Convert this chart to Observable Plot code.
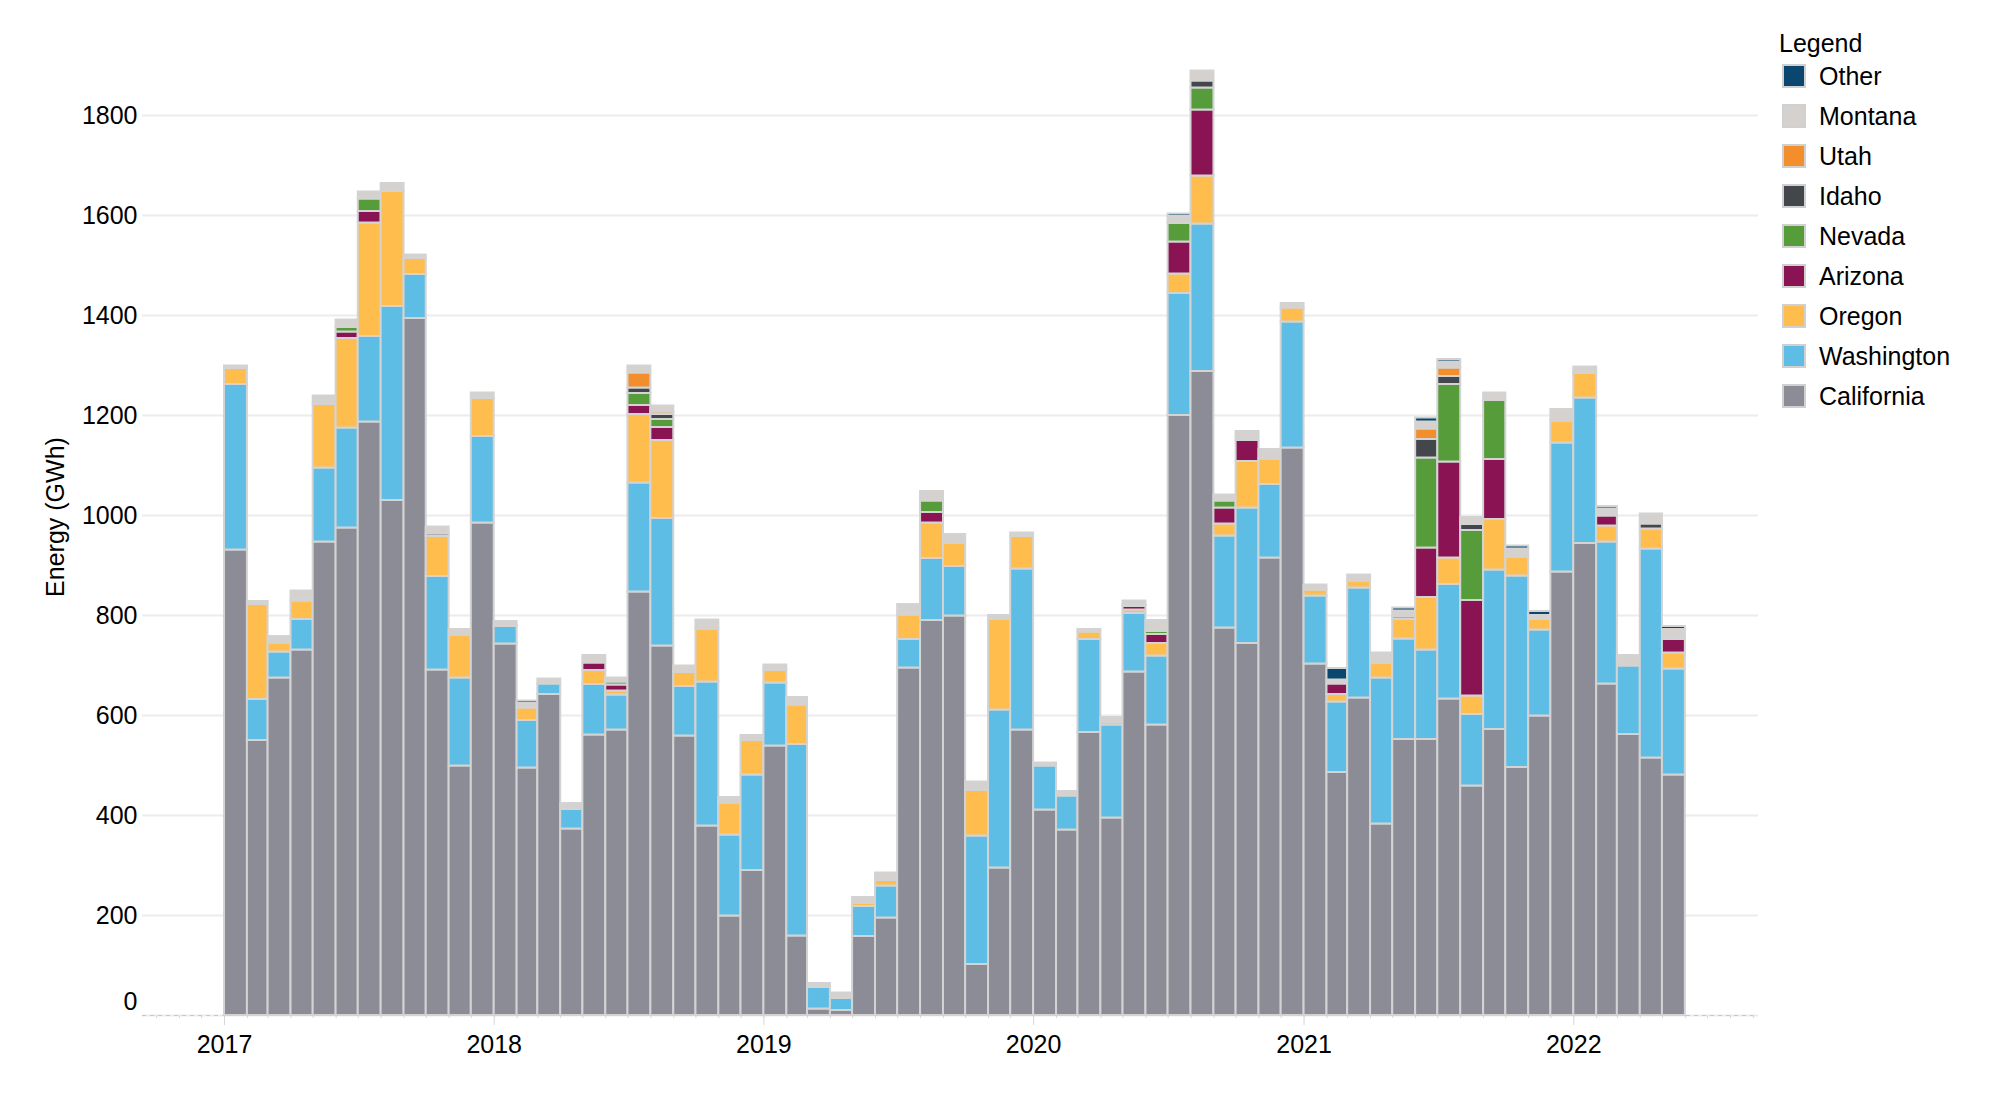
<!DOCTYPE html>
<html>
<head>
<meta charset="utf-8">
<script src="https://cdn.jsdelivr.net/npm/d3@7"></script>
<script src="https://cdn.jsdelivr.net/npm/@observablehq/plot@0.6"></script>
<style>
  html, body { margin: 0; padding: 0; background: #fff; }
  body { width: 1998px; height: 1098px; position: relative; overflow: hidden;
         font-family: "Liberation Sans", Arial, sans-serif; color: #000; }
  #chart { position: absolute; left: 0; top: 0; }
  #ylabel { position: absolute; left: 55px; top: 517px; font-size: 25px; white-space: nowrap;
            transform: translate(-50%, -50%) rotate(-90deg); }
  #legend-title { position: absolute; left: 1779px; top: 28px; font-size: 25px; line-height: 30px; }
  .item { position: absolute; left: 1782px; height: 30px; display: flex; align-items: center; font-size: 25px; }
  .sw { width: 24px; height: 24px; box-sizing: border-box; border: 2px solid #d0d0d0; margin-right: 13px; }
</style>
</head>
<body>
<div id="chart"></div>
<div id="ylabel">Energy (GWh)</div>
<div id="legend-title">Legend</div>
<div id="legend"></div>
<script>
const months = [
  "2017-01","2017-02","2017-03","2017-04","2017-05","2017-06","2017-07","2017-08","2017-09","2017-10","2017-11","2017-12",
  "2018-01","2018-02","2018-03","2018-04","2018-05","2018-06","2018-07","2018-08","2018-09","2018-10","2018-11","2018-12",
  "2019-01","2019-02","2019-03","2019-04","2019-05","2019-06","2019-07","2019-08","2019-09","2019-10","2019-11","2019-12",
  "2020-01","2020-02","2020-03","2020-04","2020-05","2020-06","2020-07","2020-08","2020-09","2020-10","2020-11","2020-12",
  "2021-01","2021-02","2021-03","2021-04","2021-05","2021-06","2021-07","2021-08","2021-09","2021-10","2021-11","2021-12",
  "2022-01","2022-02","2022-03","2022-04","2022-05"
];

const california = [931,550,675,731,947,975,1187,1030,1394,691,499,985,
  743,495,642,373,561,571,847,739,559,379,199,290,
  539,159,13,10,158,195,695,790,799,102,295,571,
  411,371,566,395,687,581,1200,1288,775,744,915,1135,
  703,486,635,383,552,552,633,459,572,496,599,887,
  944,663,562,515,481];
const washington = [331,82,52,61,148,200,171,388,88,187,176,173,
  35,95,21,39,101,70,218,255,99,288,162,191,
  126,383,43,24,60,64,57,124,99,257,316,322,
  88,68,186,186,117,138,244,295,184,271,147,252,
  136,141,220,292,201,179,229,143,319,383,172,258,
  291,284,137,418,212];
const oregon = [32,190,18,37,127,179,227,230,32,80,86,76,
  0,25,0,0,28,8,137,156,28,106,64,69,
  25,79,0,0,6,11,49,71,47,91,181,65,
  0,0,15,5,7,25,39,96,24,93,51,28,
  12,15,14,30,39,105,53,37,101,38,21,44,
  49,32,0,40,32];
const arizona = [0,0,0,4,0,13,23,0,0,0,0,0,
  0,0,0,0,15,12,18,26,0,0,0,0,
  0,0,0,0,0,0,0,21,0,0,0,0,
  0,0,0,0,7,18,64,132,32,42,0,0,
  0,21,0,0,5,99,192,191,120,0,0,0,
  0,20,0,0,27];
const nevada = [0,0,0,0,0,9,25,0,0,0,0,0,
  0,0,0,0,0,6,24,16,0,0,0,0,
  0,0,0,0,0,0,4,23,0,0,0,0,
  0,0,0,0,0,6,37,44,14,0,0,0,
  0,0,0,0,0,180,155,140,118,0,0,0,
  0,0,0,0,0];
const idaho = [0,0,0,0,0,0,0,0,0,5,0,0,
  0,0,0,0,0,0,11,10,0,0,0,0,
  0,0,0,0,0,0,0,0,0,0,0,0,
  0,0,0,0,3,0,0,14,0,0,0,0,
  0,0,0,0,0,37,16,12,0,0,0,0,
  0,0,0,10,0];
const utah = [0,0,0,0,0,0,0,0,0,0,0,0,
  0,0,0,0,0,0,30,5,0,0,0,0,
  0,0,0,0,0,0,0,0,0,0,0,0,
  0,0,0,0,0,0,0,0,0,0,0,0,
  0,0,0,0,0,21,17,0,0,0,0,0,
  0,0,0,0,4];
const montana = [5,6,13,16,17,15,14,16,7,14,11,11,
  10,9,10,12,15,8,14,12,13,18,11,10,
  11,15,8,11,12,15,17,19,17,17,8,7,
  6,9,5,10,8,22,14,20,12,18,19,9,
  10,8,12,20,12,14,12,14,15,16,8,23,
  13,14,21,20,16];
const other = [0,0,0,0,0,0,0,0,0,0,0,0,
  0,5,0,0,0,0,0,0,0,0,0,0,
  0,0,0,0,0,0,0,0,0,0,0,0,
  0,0,0,0,0,0,5,0,0,0,0,0,
  0,23,0,0,6,8,5,0,0,6,8,0,
  0,5,0,0,6];

// stacking order bottom -> top
const stateNames = ["California","Washington","Oregon","Arizona","Nevada","Idaho","Utah","Montana","Other"];
const stateColors = ["#8c8c96","#5ebde5","#ffbd4d","#8a1453","#569c3a","#43464b","#f28e2b","#d5d1ce","#0b466e"];
const seriesValues = [california, washington, oregon, arizona, nevada, idaho, utah, montana, other];

const yTicks = [0,200,400,600,800,1000,1200,1400,1600,1800];
const yearTicks = ["2017","2018","2019","2020","2021","2022"];

const data = [];
months.forEach((m, i) => {
  stateNames.forEach((s, k) => {
    const v = seriesValues[k][i];
    if (v > 0) data.push({date: new Date(m + "-01T00:00:00Z"), state: s, value: v});
  });
});

const xDomain = [new Date("2016-09-12T00:00:00Z"), new Date("2022-09-08T00:00:00Z")];
const monthTicks = d3.utcMonth.range(xDomain[0], xDomain[1]);
const yearDates = yearTicks.map(y => new Date(y + "-01-01T00:00:00Z"));

const chart = Plot.plot({
  width: 1998,
  height: 1098,
  marginLeft: 142,
  marginRight: 240,
  marginTop: 15,
  marginBottom: 83,
  style: {fontFamily: '"Liberation Sans", Arial, sans-serif', fontSize: "25px", color: "#000", background: "transparent"},
  x: {type: "utc", domain: xDomain, axis: null},
  y: {domain: [0, 2000], axis: null},
  color: {domain: stateNames, range: stateColors},
  marks: [
    Plot.gridY(yTicks, {stroke: "#ececec", strokeOpacity: 1, strokeWidth: 2}),
    Plot.ruleY([0], {stroke: "#c8c8c8", strokeDasharray: "4,4"}),
    Plot.rectY(data, {
      x: "date", interval: "month", y: "value", fill: "state",
      order: stateNames, stroke: "#d3d3d3", strokeWidth: 2, inset: 0
    }),
    Plot.axisY(yTicks.filter(d => d > 0), {tickSize: 0, tickPadding: 5, label: null, fontSize: 25, tickFormat: d => String(d)}),
    Plot.axisY([0], {tickSize: 0, tickPadding: 5, label: null, fontSize: 25, dy: -14, tickFormat: d => String(d)}),
    Plot.axisX(monthTicks, {tickSize: 3, stroke: "#d6d6d6", tickFormat: () => "", label: null}),
    Plot.axisX(yearDates, {tickSize: 10, tickPadding: 10, stroke: "#d6d6d6", tickFormat: (d, i) => yearTicks[i], label: null, fontSize: 25})
  ]
});
document.getElementById("chart").appendChild(chart);

// legend (top -> bottom is reverse stacking order)
const legend = document.getElementById("legend");
stateNames.slice().reverse().forEach((s, j) => {
  const color = stateColors[stateNames.indexOf(s)];
  const item = document.createElement("div");
  item.className = "item";
  item.style.top = (61 + 40 * j) + "px";
  const sw = document.createElement("div");
  sw.className = "sw";
  sw.style.background = color;
  const label = document.createElement("span");
  label.textContent = s;
  item.appendChild(sw);
  item.appendChild(label);
  legend.appendChild(item);
});
</script>
</body>
</html>
